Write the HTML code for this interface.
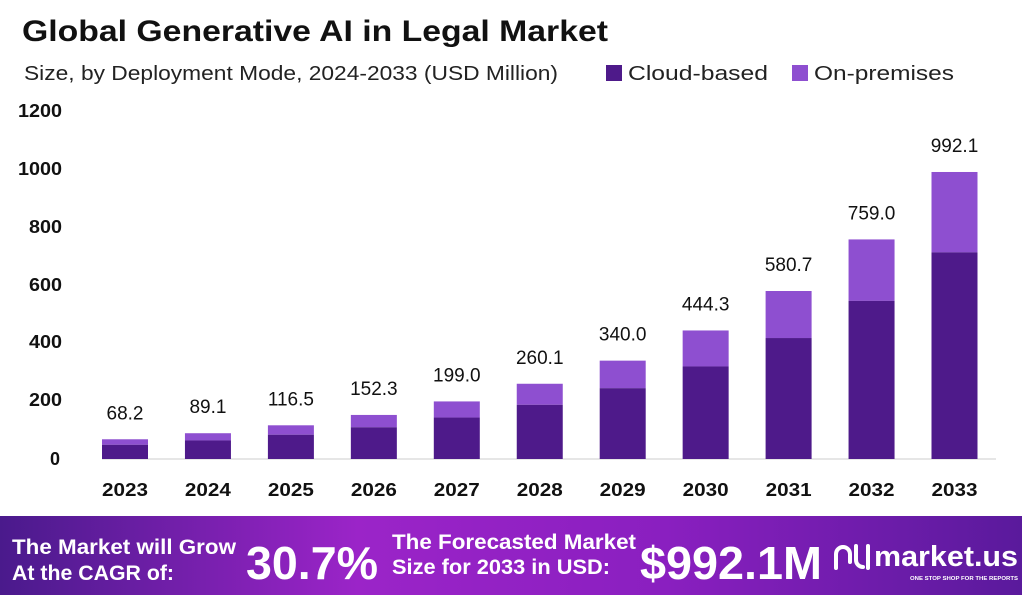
<!DOCTYPE html>
<html><head><meta charset="utf-8"><style>
body{margin:0;width:1022px;height:595px;overflow:hidden;background:#fff;font-family:"Liberation Sans",sans-serif}
</style></head><body>
<svg width="1022" height="595" xmlns="http://www.w3.org/2000/svg" style="position:absolute;left:0;top:0">
<defs>
<linearGradient id="bg" x1="0" x2="1" y1="0" y2="0">
<stop offset="0" stop-color="#4a1a8c"/><stop offset="0.35" stop-color="#9b24c8"/><stop offset="0.65" stop-color="#8a1fc0"/><stop offset="1" stop-color="#5a1a9c"/>
</linearGradient>
</defs>
<text x="22" y="41" font-size="30" font-weight="bold" fill="#111" textLength="586" lengthAdjust="spacingAndGlyphs">Global Generative AI in Legal Market</text>
<text x="24" y="80" font-size="20" fill="#222" textLength="534" lengthAdjust="spacingAndGlyphs">Size, by Deployment Mode, 2024-2033 (USD Million)</text>
<rect x="606" y="65" width="16" height="16" fill="#4e1a8a"/>
<text x="628" y="80" font-size="20" fill="#222" textLength="140" lengthAdjust="spacingAndGlyphs">Cloud-based</text>
<rect x="792" y="65" width="16" height="16" fill="#8e4fd0"/>
<text x="814" y="80" font-size="20" fill="#222" textLength="140" lengthAdjust="spacingAndGlyphs">On-premises</text>
<g font-size="18" font-weight="bold" fill="#111" text-anchor="start">
<text x="18" y="117" textLength="44" lengthAdjust="spacingAndGlyphs">1200</text><text x="18" y="175" textLength="44" lengthAdjust="spacingAndGlyphs">1000</text><text x="29" y="233" textLength="33" lengthAdjust="spacingAndGlyphs">800</text>
<text x="29" y="291" textLength="33" lengthAdjust="spacingAndGlyphs">600</text><text x="29" y="348" textLength="33" lengthAdjust="spacingAndGlyphs">400</text><text x="29" y="406" textLength="33" lengthAdjust="spacingAndGlyphs">200</text><text x="50" y="465">0</text>
</g>
<line x1="102" y1="459" x2="996" y2="459" stroke="#ccc" stroke-width="1"/>
<g id="bars"></g>
<rect x="0" y="516" width="1022" height="79" fill="url(#bg)"/>
<g fill="#fff" font-weight="bold">
<text x="12" y="554" font-size="21" textLength="224" lengthAdjust="spacingAndGlyphs">The Market will Grow</text>
<text x="12" y="580" font-size="21" textLength="162" lengthAdjust="spacingAndGlyphs">At the CAGR of:</text>
<text x="246" y="579" font-size="46" textLength="132" lengthAdjust="spacingAndGlyphs">30.7%</text>
<text x="392" y="549" font-size="21" textLength="244" lengthAdjust="spacingAndGlyphs">The Forecasted Market</text>
<text x="392" y="574" font-size="21" textLength="218" lengthAdjust="spacingAndGlyphs">Size for 2033 in USD:</text>
<text x="640" y="579" font-size="46" textLength="182" lengthAdjust="spacingAndGlyphs">$992.1M</text>
<text x="874" y="566" font-size="29" textLength="144" lengthAdjust="spacingAndGlyphs">market.us</text>
<text x="910" y="580" font-size="5" textLength="108" lengthAdjust="spacingAndGlyphs">ONE STOP SHOP FOR THE REPORTS</text>
</g>
<g stroke="#fff" stroke-width="4" fill="none" stroke-linecap="round">
<path d="M836 568 v-14 a7 7 0 0 1 14 0 v8"/><path d="M856 546 v14 a7 7 0 0 0 7 7"/><path d="M868 546 v22"/>
</g>
</svg>
<script>
const vals=[68.2,89.1,116.5,152.3,199.0,260.1,340.0,444.3,580.7,759.0,992.1];
const yrs=[2023,2024,2025,2026,2027,2028,2029,2030,2031,2032,2033];
const k=0.2893,base=459,w=46;let s='';
vals.forEach((v,i)=>{const cx=125+i*82.95,x=cx-w/2,h=v*k,hd=v*0.72*k;
s+=`<rect x="${x}" y="${base-h}" width="${w}" height="${h-hd}" fill="#8e4fd0"/>`;
s+=`<rect x="${x}" y="${base-hd}" width="${w}" height="${hd}" fill="#4e1a8a"/>`;
s+=`<text x="${cx}" y="${base-h-20}" font-size="19" text-anchor="middle" fill="#111">${v.toFixed(1)}</text>`;
s+=`<text x="${cx}" y="496" font-size="18" font-weight="bold" text-anchor="middle" fill="#111" textLength="46" lengthAdjust="spacingAndGlyphs">${yrs[i]}</text>`;});
document.getElementById('bars').innerHTML=s;
</script>
</body></html>
